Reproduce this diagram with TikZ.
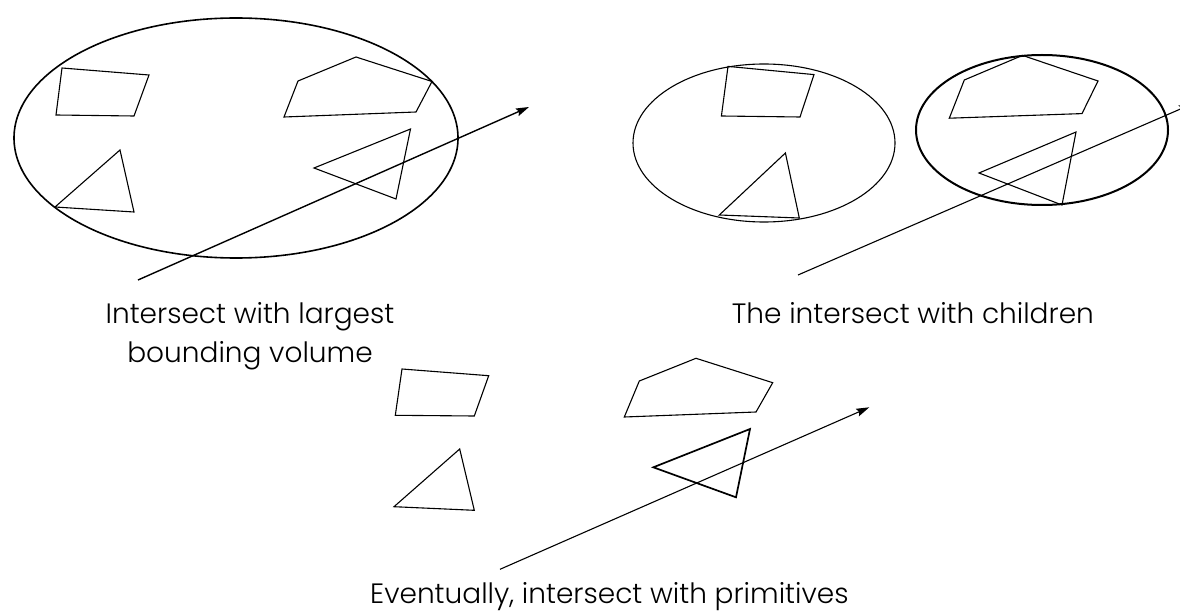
\documentclass[tikz,border=0pt]{standalone}
\usepackage{fontspec}
\setmainfont{Poppins}[UprightFont={* Light}]
\usetikzlibrary{arrows.meta}
\begin{document}
\begin{tikzpicture}[x=1pt,y=-1pt,
  poly/.style={draw=black,line width=1.1pt,line join=miter},
  bvol/.style={draw=black,line width=1.5pt},
  ray/.style={draw=black,line width=1.1pt,-{Stealth[length=13pt,width=8pt,inset=2pt]}},
  lbl/.style={font=\fontsize{28}{39}\selectfont,inner sep=0pt}]
\useasboundingbox (0,0) rectangle (1180,612);
% ---- top left: largest bounding volume
\draw[bvol,line width=1.6pt] (236,138) ellipse [x radius=222,y radius=120];
\draw[poly] (62,68) -- (149,75) -- (134,116) -- (56,115) -- cycle;
\draw[poly] (298,81) -- (356,57) -- (432,81.5) -- (416,112) -- (284,117) -- cycle;
\draw[poly] (120,150) -- (134,212) -- (55,207) -- cycle;
\draw[poly] (410.5,129) -- (396,199) -- (314,168) -- cycle;
\coordinate (r1s) at (138,280);
\coordinate (r1e) at (529,107);
\draw[ray,line width=1.4pt] (r1s) -- (r1e);
% ---- top right: children
\draw[bvol,line width=1.1pt] (764,143) ellipse [x radius=131,y radius=79];
\draw[poly] (728,66.4) -- (814,74.6) -- (800,117) -- (721.4,116) -- cycle;
\draw[poly] (785.4,153) -- (799.3,218) -- (719.3,215) -- cycle;
\draw[bvol,line width=2pt] (1042,130) ellipse [x radius=126,y radius=75];
\draw[poly] (964.3,80) -- (1022.5,55.4) -- (1098,81) -- (1082,113.6) -- (949.3,118.2) -- cycle;
\draw[poly] (1076,132) -- (1062,205) -- (979,173) -- cycle;
\coordinate (r2s) at (798,275);
\coordinate (r2e) at (1192,104);
\draw[ray] (r2s) -- (r2e);
% ---- bottom: primitives
\draw[poly] (402,369) -- (488.7,375.7) -- (474.3,416) -- (395.3,415.3) -- cycle;
\draw[poly] (639.3,381) -- (696,358.3) -- (772.7,382.7) -- (756,412) -- (624.3,417) -- cycle;
\draw[poly] (459.7,449) -- (474.3,510.3) -- (394,506.7) -- cycle;
\draw[poly,line width=1.7pt] (750,429) -- (736,497.3) -- (653.3,467.3) -- cycle;
\coordinate (r3s) at (500,569.3);
\coordinate (r3e) at (869.3,407.3);
\draw[ray] (r3s) -- (r3e);
% ---- labels
\node[lbl,align=center,anchor=center] (l1) at (250,336) {Intersect with largest\\bounding volume};
\node[lbl,anchor=base west] (l2) at (731.7,323) {The intersect with children};
\node[lbl,anchor=base west] (l3) at (370,603) {Eventually, intersect with primitives};
\end{tikzpicture}
\end{document}
